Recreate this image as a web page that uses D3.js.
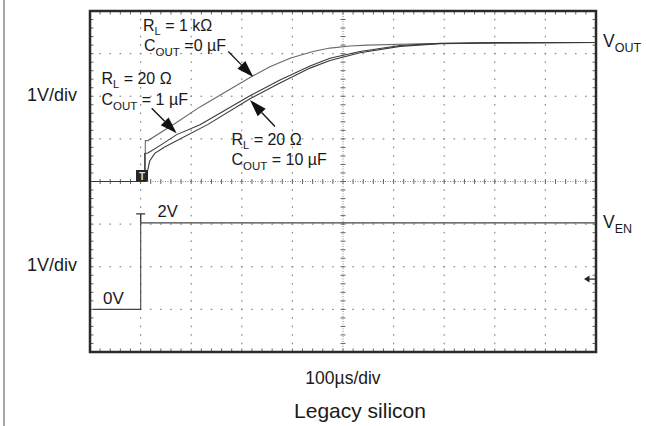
<!DOCTYPE html>
<html><head><meta charset="utf-8">
<script src="https://cdn.jsdelivr.net/npm/d3@7"></script>
<style>
body{margin:0;background:#fff}
svg{display:block}
text{font-family:"Liberation Sans",Arial,sans-serif;fill:#1a1a1a}
</style>
</head><body>
<svg id="c" width="646" height="426"></svg>
<script>
// ---------- data (time in µs, voltage in V) ----------
const timeTicks = [0,100,200,300,400,500,600,700,800,900,1000];
const divTicks  = [0,1,2,3,4,5,6,7,8];

// VOUT, RL = 1 kΩ, COUT = 0 µF
const t1k = [0,109.3,109.3,114.6,168,217.4,322.1,355.7,395.3,440.7,474.3,513.8,547.4,652.2,770.8,1000];
const v1k = [0,0,0.96,0.96,1.36,1.75,2.48,2.69,2.89,3.05,3.13,3.18,3.20,3.23,3.25,3.26];
// VOUT, RL = 20 Ω, COUT = 1 µF
const t1u = [0,108.1,108.1,114.6,140.3,171.3,217.4,316.2,375.5,434.8,474.3,533.6,612.6,691.7,810.3,1000];
const v1u = [0,0,0.66,0.67,0.86,1.10,1.33,2.01,2.38,2.71,2.89,3.05,3.19,3.24,3.26,3.26];
// VOUT, RL = 20 Ω, COUT = 10 µF
const t10u = [0,111.3,113.2,118,127.9,147.6,233.2,316.2,375.5,434.8,474.3,533.6,612.6,691.7,810.3,1000];
const v10u = [0,0,0.22,0.48,0.66,0.81,1.34,1.94,2.31,2.66,2.84,3.02,3.17,3.23,3.25,3.26];
// VEN
const tEn = [6,100.2,100.2,1000];
const vEn = [0,0,2.03,2.03];

// annotation arrows: [t, v] on VOUT scale
const arrowStart = [[273.3,3.05],[121.9,1.72],[365.6,1.29]];
const arrowTip   = [[322.7,2.45],[171.3,1.13],[316.2,1.91]];

// ---------- layout ----------
const svg = d3.select("#c");
const x = d3.scaleLinear().domain([0,1000]).range([90,596]);
const yDiv = d3.scaleLinear().domain([0,8]).range([352,11]);
const yOut = v => yDiv(4 + v);
const yEn  = v => yDiv(1 + v);

// left page rule
svg.append("line").attr("x1",4).attr("x2",4).attr("y1",0).attr("y2",426)
  .attr("stroke","#8a8a8a").attr("stroke-width",1.5);

const g = svg.append("g");

// grid dots
const minorT = d3.range(0,1000.1,20);
const minorD = d3.range(0,8.01,0.2);
timeTicks.filter(t=>t>0&&t<1000&&t!==500).forEach(t=>{
  g.selectAll(null).data(minorD).enter().append("rect")
    .attr("x",x(t)-0.6).attr("y",d=>yDiv(d)-0.8).attr("width",1.2).attr("height",1.6).attr("fill","#888");
});
divTicks.filter(d=>d>0&&d<8&&d!==4).forEach(d=>{
  g.selectAll(null).data(minorT).enter().append("rect")
    .attr("x",t=>x(t)-0.8).attr("y",yDiv(d)-0.6).attr("width",1.6).attr("height",1.2).attr("fill","#888");
});

// center crosshair
g.append("line").attr("x1",x(0)).attr("x2",x(1000)).attr("y1",yDiv(4)).attr("y2",yDiv(4))
  .attr("stroke","#888").attr("stroke-width",1).attr("stroke-dasharray","1,1.5");
g.append("line").attr("x1",x(500)).attr("x2",x(500)).attr("y1",yDiv(0)).attr("y2",yDiv(8))
  .attr("stroke","#888").attr("stroke-width",1).attr("stroke-dasharray","1,1.5");
g.selectAll(null).data(minorT).enter().append("line")
  .attr("x1",t=>x(t)).attr("x2",t=>x(t)).attr("y1",yDiv(4)-2.5).attr("y2",yDiv(4)+2.5)
  .attr("stroke","#666").attr("stroke-width",1);
g.selectAll(null).data(minorD).enter().append("line")
  .attr("x1",x(500)-2.5).attr("x2",x(500)+2.5).attr("y1",d=>yDiv(d)).attr("y2",d=>yDiv(d))
  .attr("stroke","#666").attr("stroke-width",1);

// border minor ticks
g.selectAll(null).data(minorT).enter().append("line")
  .attr("x1",t=>x(t)).attr("x2",t=>x(t)).attr("y1",yDiv(8)).attr("y2",yDiv(8)+3.5)
  .attr("stroke","#666").attr("stroke-width",1);
g.selectAll(null).data(minorT).enter().append("line")
  .attr("x1",t=>x(t)).attr("x2",t=>x(t)).attr("y1",yDiv(0)).attr("y2",yDiv(0)-3.5)
  .attr("stroke","#666").attr("stroke-width",1);
g.selectAll(null).data(minorD).enter().append("line")
  .attr("x1",x(0)).attr("x2",x(0)+3.5).attr("y1",d=>yDiv(d)).attr("y2",d=>yDiv(d))
  .attr("stroke","#666").attr("stroke-width",1);
g.selectAll(null).data(minorD).enter().append("line")
  .attr("x1",x(1000)).attr("x2",x(1000)-3.5).attr("y1",d=>yDiv(d)).attr("y2",d=>yDiv(d))
  .attr("stroke","#666").attr("stroke-width",1);

// border
g.append("rect").attr("x",x(0)).attr("y",yDiv(8)).attr("width",x(1000)-x(0)).attr("height",yDiv(0)-yDiv(8))
  .attr("fill","none").attr("stroke","#2a2a2a").attr("stroke-width",2.5);

// traces
const lineOut = d3.line().x(d=>x(d[0])).y(d=>yOut(d[1]));
const lineEn  = d3.line().x(d=>x(d[0])).y(d=>yEn(d[1]));
const zip = (a,b)=>a.map((v,i)=>[v,b[i]]);
g.append("path").attr("d",lineOut(zip(t1k,v1k))).attr("fill","none").attr("stroke","#6a6a6a").attr("stroke-width",1.1);
g.append("path").attr("d",lineOut(zip(t1u,v1u))).attr("fill","none").attr("stroke","#3a3a3a").attr("stroke-width",1.1);
g.append("path").attr("d",lineOut(zip(t10u,v10u))).attr("fill","none").attr("stroke","#3a3a3a").attr("stroke-width",1.1);
g.append("path").attr("d",lineEn(zip(tEn,vEn))).attr("fill","none").attr("stroke","#444").attr("stroke-width",1.1);

// VEN cursor cap
g.append("path").attr("d",`M${x(100.2)-4.5},${yEn(2.24)}H${x(100.2)+4.5}M${x(100.2)},${yEn(2.24)}V${yEn(2.03)}`)
  .attr("stroke","#333").attr("stroke-width",1.3).attr("fill","none");

// trigger marker box
const tbx = x(102.8), tby = yOut(0);
g.append("rect").attr("x",tbx-6).attr("y",tby-11.5).attr("width",12).attr("height",11.5).attr("fill","#262626");
g.append("text").attr("x",tbx).attr("y",tby-2).attr("text-anchor","middle")
  .style("font-size","10px").style("font-weight","bold").style("fill","#ddd").text("T");

// right trigger level arrow
const ty = yEn(0.71);
g.append("path").attr("d",`M${x(1000)-12},${ty}L${x(1000)-6.5},${ty-3.5}L${x(1000)-6.5},${ty+3.5}Z`).attr("fill","#222");
g.append("line").attr("x1",x(1000)-7).attr("x2",x(1000)-1).attr("y1",ty).attr("y2",ty).attr("stroke","#222").attr("stroke-width",1.2);

// annotation arrows
arrowStart.forEach((s,i)=>{
  const e = arrowTip[i];
  const x1=x(s[0]), y1=yOut(s[1]), x2=x(e[0]), y2=yOut(e[1]);
  const ang = Math.atan2(y2-y1,x2-x1), L=17, W=5.5;
  const bx = x2 - L*Math.cos(ang), by = y2 - L*Math.sin(ang);
  g.append("line").attr("x1",x1).attr("y1",y1).attr("x2",bx).attr("y2",by).attr("stroke","#111").attr("stroke-width",1.3);
  g.append("path").attr("d",`M${x2},${y2}L${bx - W*Math.sin(ang)},${by + W*Math.cos(ang)}L${bx + W*Math.sin(ang)},${by - W*Math.cos(ang)}Z`).attr("fill","#111");
});

// labels with subscripts
function label(px, py, main, sub, rest, fs, sfs, dy){
  const t = svg.append("text").attr("x",px).attr("y",py).style("font-size",fs+"px");
  t.append("tspan").text(main);
  t.append("tspan").attr("dy",dy).style("font-size",sfs+"px").text(sub);
  if(rest) t.append("tspan").attr("dy",-dy).text(rest);
  return t;
}
label(143,31,"R","L"," = 1 kΩ",16,11,4);
label(144,51,"C","OUT"," =0 µF",16,11.5,5);
label(101.5,84,"R","L"," = 20 Ω",16,11,4);
label(101.5,104.5,"C","OUT"," = 1 µF",16,11.5,5);
label(231.5,145,"R","L"," = 20 Ω",16,11,4);
label(231.5,165,"C","OUT"," = 10 µF",16,11.5,5);
label(603,47,"V","OUT",null,17.5,12.5,5);
label(603,228,"V","EN",null,17.5,12.5,5);

svg.append("text").attr("x",157.5).attr("y",217.3).style("font-size","16.5px").text("2V");
svg.append("text").attr("x",103).attr("y",303.5).style("font-size","17px").text("0V");
svg.append("text").attr("x",27).attr("y",101).style("font-size","18px").text("1V/div");
svg.append("text").attr("x",27).attr("y",271).style("font-size","18px").text("1V/div");
svg.append("text").attr("x",343).attr("y",384).attr("text-anchor","middle").style("font-size","17.5px").text("100µs/div");
svg.append("text").attr("x",360).attr("y",418).attr("text-anchor","middle").style("font-size","21px").text("Legacy silicon");
</script>
</body></html>
